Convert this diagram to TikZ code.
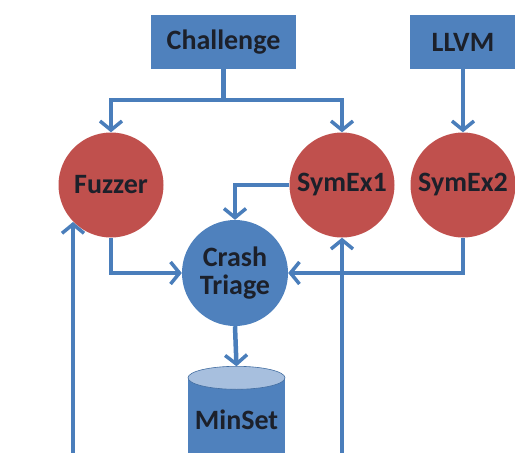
\documentclass[tikz,border=0pt]{standalone}
\usepackage{fontspec}
\setmainfont{Carlito}
\usetikzlibrary{arrows.meta,calc}
\definecolor{flowblue}{RGB}{79,129,189}
\definecolor{wireblue}{RGB}{74,126,187}
\definecolor{toolred}{RGB}{192,80,77}
\definecolor{capblue}{RGB}{167,191,222}
\definecolor{inkdark}{RGB}{28,32,42}
\begin{document}
\begin{tikzpicture}[x=1pt,y=-1pt,
  every node/.style={font=\bfseries\fontsize{28}{30}\selectfont, text=inkdark, inner sep=0pt},
  srcbox/.style={rectangle, fill=flowblue, minimum height=54pt},
  tool/.style={circle, fill=toolred, minimum size=105pt},
  hub/.style={circle, fill=flowblue, minimum size=106pt, align=center},
  store/.style={rectangle, fill=flowblue, minimum width=97pt, minimum height=84pt},
  wire/.style={draw=wireblue, line width=4.5pt, line join=miter,
    -{Straight Barb[length=9pt, width=22pt, line width=3.5pt]}},
  plainwire/.style={draw=wireblue, line width=4.5pt}]
  \useasboundingbox (0,0) rectangle (515,453);
  \clip (0,0) rectangle (515,453);

  % sources
  \node[srcbox, minimum width=145pt] (challenge) at (223.5,42) {Challenge};
  \node[srcbox, minimum width=106pt] (llvm) at (463,42) {LLVM};

  % analysis engines
  \node[tool] (fuzzer) at (111,185) {Fuzzer};
  \node[tool] (symex1) at (342,185) {SymEx1};
  \node[tool] (symex2) at (463,185) {SymEx2};

  % triage and result store
  \node[hub] (triage) at (235,273) {Crash\\[-2pt]Triage};
  \node[store] (minset) at (236.5,420) {MinSet};
  \fill[capblue] (minset.north) ellipse [x radius=48.5, y radius=11.5];
  \draw[flowblue!85!black, line width=0.6pt] (minset.north) ellipse [x radius=48.5, y radius=11.5];
  \coordinate (minsettop) at ($(minset.north)+(0,-11.5)$);

  % feedback inputs entering from below
  \coordinate (feedA) at (73,460);
  \coordinate (feedB) at (342,460);

  % connectors
  \draw[plainwire] (challenge.south) -- (challenge.south |- 0,100);
  \draw[wire] (challenge.south |- 0,100) -| (fuzzer.north);
  \draw[wire] (challenge.south |- 0,100) -| (symex1.north);
  \draw[wire] (llvm.south) -- (symex2.north);
  \draw[wire] (symex1.west) -| (triage.north);
  \draw[wire] (fuzzer.south) |- (triage.west);
  \draw[wire] (symex2.south) |- (triage.east);
  \draw[wire] (triage.south) -- (minsettop);
  \draw[wire] (feedA) -- (feedA |- 0,222);
  \draw[wire] (feedB) -- (symex1.south);
\end{tikzpicture}
\end{document}
